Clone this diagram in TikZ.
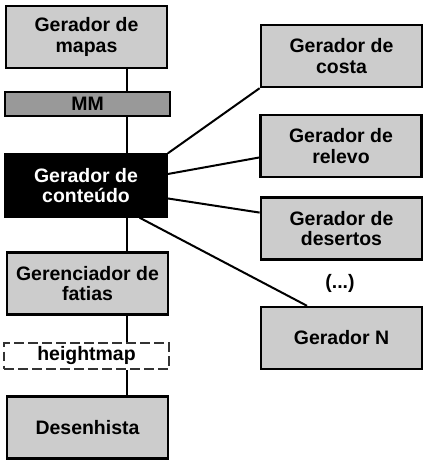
\documentclass[tikz,border=0pt]{standalone}
\usepackage{fontspec}
\setmainfont{Liberation Sans}
\definecolor{boxgray}{HTML}{CCCCCC}
\definecolor{mmgray}{HTML}{999999}
\definecolor{dashgray}{HTML}{333333}
\tikzset{
  box/.style={draw, line width=1.8pt, fill=boxgray, minimum width=121pt, minimum height=46.5pt,
    align=center, inner sep=0pt, font=\fontsize{14.6pt}{15.2pt}\selectfont\bfseries},
  mmbox/.style={box, fill=mmgray, minimum width=123.5pt, minimum height=18pt},
  darkbox/.style={box, fill=black, text=white},
  dashbox/.style={box, fill=white, draw=dashgray, line width=1.5pt, dash pattern=on 7pt off 3.5pt,
    minimum width=123.5pt, minimum height=19.5pt},
  link/.style={line width=1.5pt}
}
\begin{document}
\begin{tikzpicture}[x=0.75pt, y=-0.75pt]
    \useasboundingbox (0,0) rectangle (430,470);

    % spine x position
    \coordinate (spine) at (127,0);

    % left column
    \node[box]     (mapas)  at (86.5,37)   {Gerador de\\mapas};
    \node[mmbox]   (mm)     at (87.5,104)  {MM};
    \node[darkbox] (cont)   at (86,185.5)  {Gerador de\\conteúdo};
    \node[box]     (fatias) at (87.5,283.5) {Gerenciador de\\fatias};
    \node[dashbox] (hmap)   at (86.5,356)  {heightmap};
    \node[box]     (desen)  at (87.5,427.5) {Desenhista};

    % right column
    \node[box] (costa)    at (341.5,56)  {Gerador de\\costa};
    \node[box] (relevo)   at (341,146)   {Gerador de\\relevo};
    \node[box] (desertos) at (341.5,228.5) {Gerador de\\desertos};
    \node[font=\fontsize{14.6pt}{15.2pt}\selectfont\bfseries] (dots) at (340,283) {(...)};
    \node[box] (genN)     at (341.5,338) {Gerador N};

    \foreach \a/\b in {mapas/mm, mm/cont, cont/fatias, fatias/hmap, hmap/desen}
        \draw[link] (\a.south -| spine) -- (\b.north -| spine);

    \draw[link] (cont.north east) -- (costa.south west);
    \draw[link] (cont.8) -- (relevo.188);
    \draw[link] (cont.351) -- (desertos.169);
    \draw[link] (cont.329) -- (genN.137);
\end{tikzpicture}
\end{document}
